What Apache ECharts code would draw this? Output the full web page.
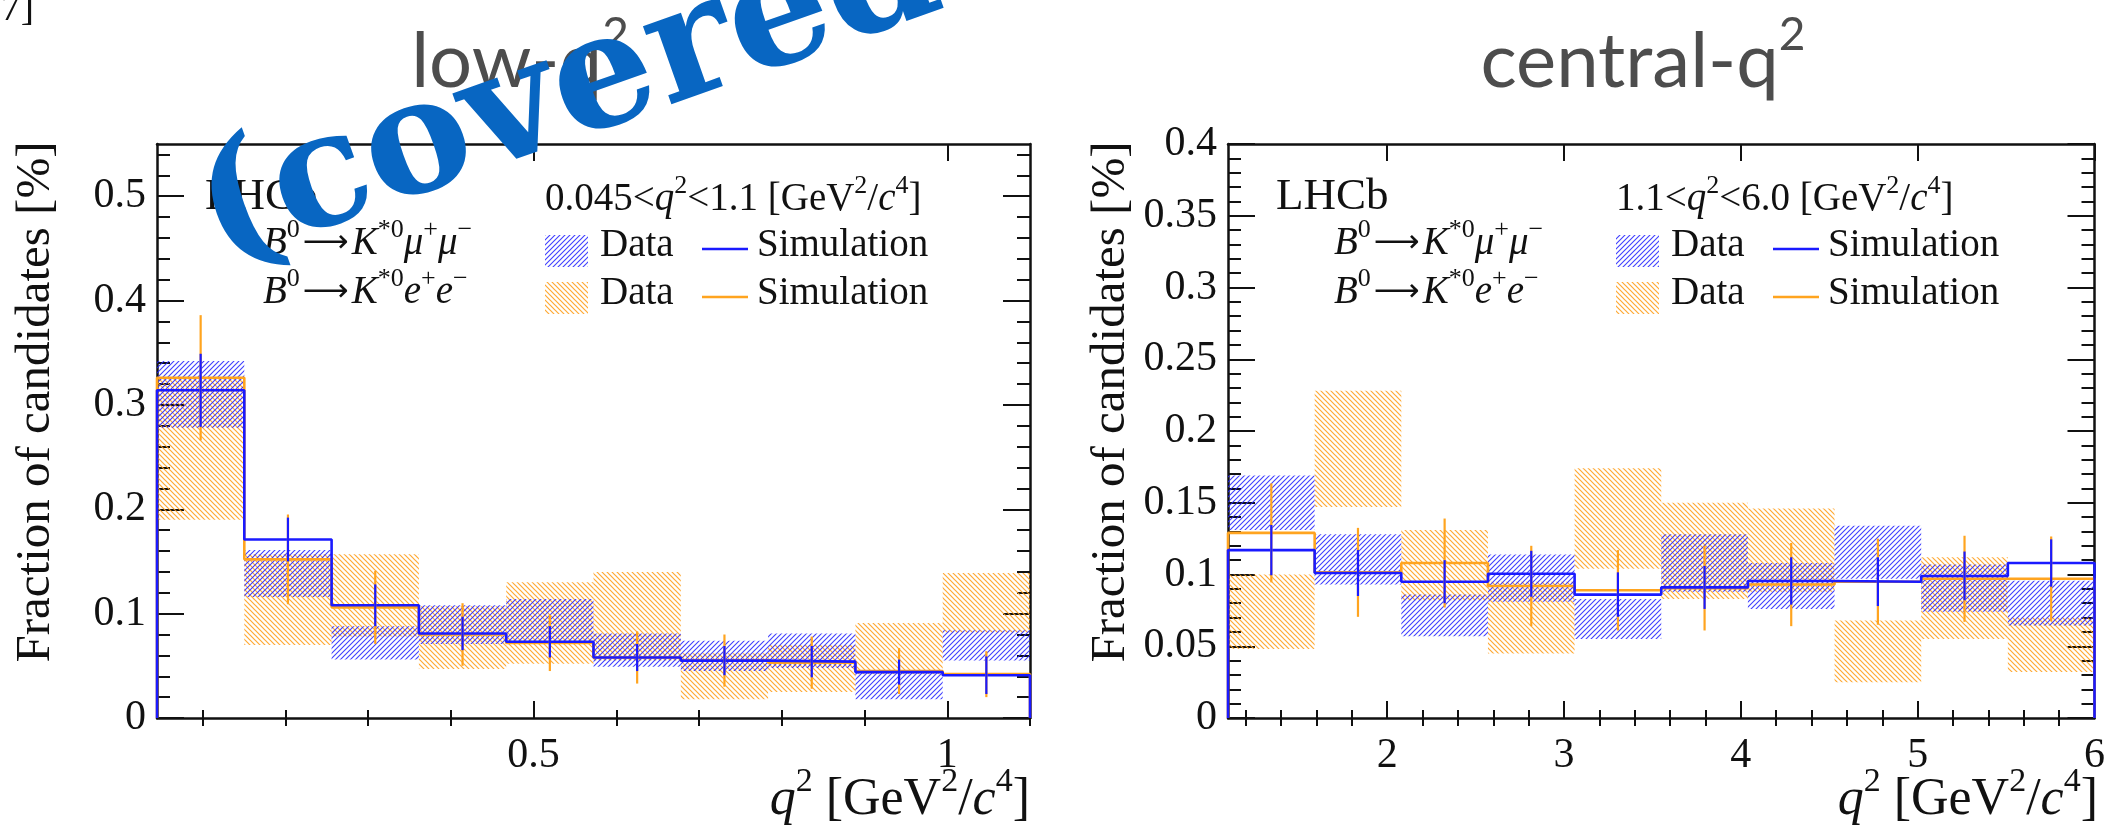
<!DOCTYPE html>
<html><head><meta charset="utf-8">
<script src="https://cdn.jsdelivr.net/npm/echarts@6/dist/echarts.min.js"></script>
<style>html,body{margin:0;padding:0;background:#fff;overflow:hidden}#chart{width:2108px;height:827px}</style>
</head><body><div id="chart"></div>
<script>
// ---------------- data: low-q2 panel ----------------
const lowEdges    = [0.045, 0.1505, 0.256, 0.3615, 0.467, 0.5725, 0.678, 0.7835, 0.889, 0.9945, 1.1];
const lowMuSim    = [0.314, 0.171, 0.108, 0.081, 0.073, 0.058, 0.055, 0.054, 0.044, 0.041];
const lowEeSim    = [0.326, 0.152, 0.106, 0.080, 0.072, 0.058, 0.055, 0.053, 0.045, 0.042];
const lowMuErr    = [0.035, 0.021, 0.020, 0.016, 0.015, 0.013, 0.014, 0.015, 0.012, 0.018];
const lowEeErr    = [0.060, 0.043, 0.035, 0.030, 0.027, 0.025, 0.025, 0.025, 0.022, 0.022];
const lowMuDataLo = [0.278, 0.116, 0.056, 0.071, 0.072, 0.049, 0.045, 0.048, 0.018, 0.055];
const lowMuDataHi = [0.342, 0.161, 0.088, 0.108, 0.114, 0.081, 0.074, 0.081, 0.043, 0.084];
const lowEeDataLo = [0.190, 0.070, 0.078, 0.047, 0.052, 0.055, 0.018, 0.025, 0.042, 0.082];
const lowEeDataHi = [0.325, 0.157, 0.157, 0.107, 0.130, 0.140, 0.062, 0.070, 0.091, 0.139];
// ---------------- data: central-q2 panel ----------------
const cenEdges    = [1.1, 1.59, 2.08, 2.57, 3.06, 3.55, 4.04, 4.53, 5.02, 5.51, 6.0];
const cenMuSim    = [0.117, 0.101, 0.095, 0.1005, 0.086, 0.091, 0.0955, 0.095, 0.099, 0.108];
const cenEeSim    = [0.129, 0.1015, 0.108, 0.092, 0.089, 0.0905, 0.093, 0.095, 0.097, 0.097];
const cenMuErr    = [0.0175, 0.016, 0.015, 0.016, 0.0155, 0.015, 0.0165, 0.017, 0.017, 0.0165];
const cenEeErr    = [0.0345, 0.031, 0.031, 0.028, 0.028, 0.0295, 0.029, 0.030, 0.030, 0.0295];
const cenMuDataLo = [0.131, 0.093, 0.057, 0.081, 0.055, 0.088, 0.076, 0.097, 0.074, 0.0645];
const cenMuDataHi = [0.169, 0.128, 0.086, 0.114, 0.083, 0.128, 0.108, 0.134, 0.107, 0.0956];
const cenEeDataLo = [0.048, 0.147, 0.082, 0.045, 0.104, 0.083, 0.088, 0.025, 0.055, 0.032];
const cenEeDataHi = [0.100, 0.228, 0.131, 0.095, 0.174, 0.150, 0.146, 0.068, 0.112, 0.070];
// ---------------- tick labels ----------------
const lowXLabels = ['0.5', '1'];
const lowYLabels = ['0', '0.1', '0.2', '0.3', '0.4', '0.5'];
const cenXLabels = ['2', '3', '4', '5', '6'];
const cenYLabels = ['0', '0.05', '0.1', '0.15', '0.2', '0.25', '0.3', '0.35', '0.4'];
const lowXMinorStep = 0.1, lowYMinorStep = 0.02, cenXMinorStep = 0.2, cenYMinorStep = 0.01;
const lowRange = [0.045, 1.1, 0, 0.55];
const cenRange = [1.1, 6.0, 0, 0.4];

const SERIF = '"Liberation Serif","Times New Roman",serif';
const BLUE = '#1a1aff', ORANGE = '#ffa41f';
const BLUE_H = 'rgba(30,30,255,0.85)', ORANGE_H = 'rgba(255,160,30,0.9)';
const TICK_FS = 42;

function hatch(color, dir, size, lw) {
  const c = document.createElement('canvas');
  c.width = size; c.height = size;
  const g = c.getContext('2d');
  g.strokeStyle = color; g.lineWidth = lw;
  g.beginPath();
  if (dir > 0) {
    g.moveTo(-1, size + 1); g.lineTo(size + 1, -1);
    g.moveTo(-2, 2); g.lineTo(2, -2);
    g.moveTo(size - 2, size + 2); g.lineTo(size + 2, size - 2);
  } else {
    g.moveTo(-1, -1); g.lineTo(size + 1, size + 1);
    g.moveTo(size - 2, -2); g.lineTo(size + 2, 2);
    g.moveTo(-2, size - 2); g.lineTo(2, size + 2);
  }
  g.stroke();
  return { image: c, repeat: 'repeat' };
}
const blueHatch = hatch(BLUE_H, 1, 5, 1.1);
const orangeHatch = hatch(ORANGE_H, -1, 5, 1.2);

function minorVals(min, max, step, majors) {
  const out = [];
  for (let v = Math.ceil(min / step - 1e-9) * step; v <= max + 1e-9; v += step) {
    const r = Math.round(v * 1e6) / 1e6;
    if (!majors.some(m => Math.abs(m - r) < 1e-6)) out.push(r);
  }
  return out;
}
function fmtFrom(labels) {
  return v => { const l = labels.find(s => Math.abs(Number(s) - v) < 1e-6); return l === undefined ? '' : l; };
}

const grids = [
  { left: 157, top: 144, width: 873, height: 574 },
  { left: 1228, top: 144, width: 870, height: 574 }
];
const xAxes = [], yAxes = [];
function buildAxes(gi, range, xLabels, yLabels, xStep, yStep) {
  const xMaj = xLabels.map(Number), yMaj = yLabels.map(Number);
  const xMin = minorVals(range[0], range[1], xStep, xMaj);
  const yMin = minorVals(range[2], range[3], yStep, yMaj);
  const line = { show: true, onZero: false, lineStyle: { color: '#111', width: 2.5 } };
  const base = (pos, min, max) => ({ type: 'value', gridIndex: gi, position: pos, min, max, splitLine: { show: false } });
  const xi = xAxes.length, yi = yAxes.length;
  ['bottom', 'top'].forEach((pos, k) => {
    xAxes.push(Object.assign(base(pos, range[0], range[1]), {
      axisLine: line,
      axisTick: { show: true, inside: true, length: 17, customValues: xMaj, lineStyle: { color: '#111', width: 2 } },
      axisLabel: k === 0 ? { show: true, customValues: xMaj, formatter: fmtFrom(xLabels), margin: 17,
        fontFamily: SERIF, fontSize: TICK_FS, color: '#111' } : { show: false }
    }));
    xAxes.push(Object.assign(base(pos, range[0], range[1]), {
      axisLine: { show: false },
      axisTick: { show: true, inside: true, length: 8, customValues: xMin, lineStyle: { color: '#111', width: 2 } },
      axisLabel: { show: false }
    }));
  });
  ['left', 'right'].forEach((pos, k) => {
    yAxes.push(Object.assign(base(pos, range[2], range[3]), {
      axisLine: line,
      axisTick: { show: true, inside: true, length: 27, customValues: yMaj, lineStyle: { color: '#111', width: 2 } },
      axisLabel: k === 0 ? { show: true, customValues: yMaj, formatter: fmtFrom(yLabels), margin: 11,
        fontFamily: SERIF, fontSize: TICK_FS, color: '#111' } : { show: false }
    }));
    yAxes.push(Object.assign(base(pos, range[2], range[3]), {
      axisLine: { show: false },
      axisTick: { show: true, inside: true, length: 13, customValues: yMin, lineStyle: { color: '#111', width: 2 } },
      axisLabel: { show: false }
    }));
  });
  return [xi, yi];
}
const [lx, ly] = buildAxes(0, lowRange, lowXLabels, lowYLabels, lowXMinorStep, lowYMinorStep);
const [cx, cy] = buildAxes(1, cenRange, cenXLabels, cenYLabels, cenXMinorStep, cenYMinorStep);

function bandRender(pattern) {
  return (params, api) => {
    const p0 = api.coord([api.value(0), api.value(3)]);
    const p1 = api.coord([api.value(1), api.value(2)]);
    return { type: 'rect', shape: { x: p0[0], y: p0[1], width: p1[0] - p0[0], height: p1[1] - p0[1] },
      style: { fill: pattern } };
  };
}
function errRender(color) {
  return (params, api) => {
    const a = api.coord([api.value(0), api.value(1)]);
    const b = api.coord([api.value(0), api.value(2)]);
    return { type: 'line', shape: { x1: a[0], y1: a[1], x2: b[0], y2: b[1] }, style: { stroke: color, lineWidth: 2.2 } };
  };
}
function bands(edges, lo, hi) { return lo.map((l, i) => [edges[i], edges[i + 1], l, hi[i]]); }
function errs(edges, sim, e) { return sim.map((s, i) => [(edges[i] + edges[i + 1]) / 2, s - e[i], s + e[i]]); }
function steps(edges, vals) {
  const d = [[edges[0], 0]];
  vals.forEach((v, i) => d.push([edges[i], v]));
  d.push([edges[edges.length - 1], vals[vals.length - 1]]);
  d.push([edges[edges.length - 1], 0]);
  return d;
}
function panelSeries(xi, yi, edges, muSim, eeSim, muErr, eeErr, muLo, muHi, eeLo, eeHi) {
  const ax = { xAxisIndex: xi, yAxisIndex: yi };
  return [
    Object.assign({ type: 'custom', name: 'ee data', renderItem: bandRender(orangeHatch), data: bands(edges, eeLo, eeHi), encode: { x: [0, 1], y: [2, 3] }, z: 2 }, ax),
    Object.assign({ type: 'custom', name: 'mumu data', renderItem: bandRender(blueHatch), data: bands(edges, muLo, muHi), encode: { x: [0, 1], y: [2, 3] }, z: 3 }, ax),
    Object.assign({ type: 'line', name: 'ee sim', step: 'end', symbol: 'none', data: steps(edges, eeSim), lineStyle: { color: ORANGE, width: 2.6 }, z: 4 }, ax),
    Object.assign({ type: 'line', name: 'mumu sim', step: 'end', symbol: 'none', data: steps(edges, muSim), lineStyle: { color: BLUE, width: 2.6 }, z: 5 }, ax),
    Object.assign({ type: 'custom', name: 'ee err', renderItem: errRender(ORANGE), data: errs(edges, eeSim, eeErr), encode: { x: 0, y: [1, 2] }, z: 6 }, ax),
    Object.assign({ type: 'custom', name: 'mumu err', renderItem: errRender(BLUE), data: errs(edges, muSim, muErr), encode: { x: 0, y: [1, 2] }, z: 7 }, ax)
  ];
}
const series = [].concat(
  panelSeries(lx, ly, lowEdges, lowMuSim, lowEeSim, lowMuErr, lowEeErr, lowMuDataLo, lowMuDataHi, lowEeDataLo, lowEeDataHi),
  panelSeries(cx, cy, cenEdges, cenMuSim, cenEeSim, cenMuErr, cenEeErr, cenMuDataLo, cenMuDataHi, cenEeDataLo, cenEeDataHi)
);

// ---------------- texts ----------------
function rich(fs) {
  const lh = Math.round(fs * 1.35), sfs = Math.round(fs * 0.66);
  return {
    n: { fontFamily: SERIF, fontSize: fs, lineHeight: lh, fill: '#111' },
    i: { fontFamily: SERIF, fontSize: fs, lineHeight: lh, fontStyle: 'italic', fill: '#111' },
    ar: { fontFamily: '"DejaVu Sans"', fontSize: Math.round(fs * 0.82), lineHeight: lh, fill: '#111', padding: [0, 3, 0, 3] },
    sup: { fontFamily: SERIF, fontSize: sfs, lineHeight: sfs, verticalAlign: 'top', fill: '#111' }
  };
}
function txt(x, y, text, fs, align, extra) {
  return Object.assign({ type: 'text', x, y, z: 100, style: { text, rich: rich(fs), fontFamily: SERIF, fontSize: fs,
    lineHeight: Math.round(fs * 1.35), fill: '#111', align: align || 'left', verticalAlign: 'middle' } }, extra || {});
}
const decayMu = '{i|B}{sup|0}{ar|⟶}{i|K}{sup|*0}{i|μ}{sup|+}{i|μ}{sup|−}';
const decayEe = '{i|B}{sup|0}{ar|⟶}{i|K}{sup|*0}{i|e}{sup|+}{i|e}{sup|−}';
const qUnit = '{i|q}{sup|2}{n| [GeV}{sup|2}{n|/}{i|c}{sup|4}{n|]}';
const rangeLow = '{n|0.045<}{i|q}{sup|2}{n|<1.1 [GeV}{sup|2}{n|/}{i|c}{sup|4}{n|]}';
const rangeCen = '{n|1.1<}{i|q}{sup|2}{n|<6.0 [GeV}{sup|2}{n|/}{i|c}{sup|4}{n|]}';
const yTitle = 'Fraction of candidates [%]';

function panelTexts(x0, xEnd, rangeText) {
  const L = [];
  L.push(txt(x0 + 48, 197, '{n|LHCb}', 45));
  L.push(txt(x0 + 106, 244, decayMu, 39));
  L.push(txt(x0 + 106, 293, decayEe, 39));
  L.push(txt(x0 + 388, 200, rangeText, 39));
  L.push(txt(x0 + 443, 246, '{n|Data}', 39));
  L.push(txt(x0 + 443, 294, '{n|Data}', 39));
  L.push(txt(x0 + 600, 246, '{n|Simulation}', 39));
  L.push(txt(x0 + 600, 294, '{n|Simulation}', 39));
  L.push({ type: 'rect', z: 100, shape: { x: x0 + 388, y: 235, width: 43, height: 32 }, style: { fill: blueHatch } });
  L.push({ type: 'rect', z: 100, shape: { x: x0 + 388, y: 282, width: 43, height: 32 }, style: { fill: orangeHatch } });
  L.push({ type: 'line', z: 100, shape: { x1: x0 + 545, y1: 249, x2: x0 + 591, y2: 249 }, style: { stroke: BLUE, lineWidth: 2.6 } });
  L.push({ type: 'line', z: 100, shape: { x1: x0 + 545, y1: 297, x2: x0 + 591, y2: 297 }, style: { stroke: ORANGE, lineWidth: 2.6 } });
  L.push(txt(xEnd, 800, qUnit, 52, 'right'));
  return L;
}
function titleText(x, main) {
  return { type: 'text', x, y: 62, z: 100,
    style: { text: '{t|' + main + '}{s|2}', align: 'center', verticalAlign: 'middle', fontFamily: 'Lato', fontSize: 76,
      rich: { t: { fontFamily: 'Lato', fontSize: 76, lineHeight: 100, fill: '#4d4d4d' },
              s: { fontFamily: 'Lato', fontSize: 46, lineHeight: 46, verticalAlign: 'top', fill: '#4d4d4d' } } } };
}
const graphics = [].concat(
  panelTexts(157, 1030, rangeLow),
  panelTexts(1228, 2098, rangeCen),
  [
    { type: 'text', x: 36, y: 402, rotation: Math.PI / 2, z: 100,
      style: { text: yTitle, fontFamily: SERIF, fontSize: 49, fill: '#111', align: 'center', verticalAlign: 'middle' } },
    { type: 'text', x: 1111, y: 402, rotation: Math.PI / 2, z: 100,
      style: { text: yTitle, fontFamily: SERIF, fontSize: 49, fill: '#111', align: 'center', verticalAlign: 'middle' } },
    titleText(520, 'low-q'),
    titleText(1643, 'central-q'),
    { type: 'text', x: 34, y: 9, z: 100,
      style: { text: '7]', fontFamily: SERIF, fontSize: 40, fill: '#111', align: 'right', verticalAlign: 'middle' } },
    { type: 'text', x: 205, y: 225, rotation: 0.34, z: 200,
      style: { text: '(covered by', fontFamily: '"DejaVu Serif"', fontWeight: 'bold', fontSize: 160, fill: '#0866c2',
        align: 'left', verticalAlign: 'middle' } }
  ]
);

const chart = echarts.init(document.getElementById('chart'), null, { renderer: 'canvas' });
chart.setOption({
  animation: false,
  backgroundColor: '#fff',
  grid: grids,
  xAxis: xAxes,
  yAxis: yAxes,
  series: series,
  graphic: { elements: graphics }
});
</script></body></html>
